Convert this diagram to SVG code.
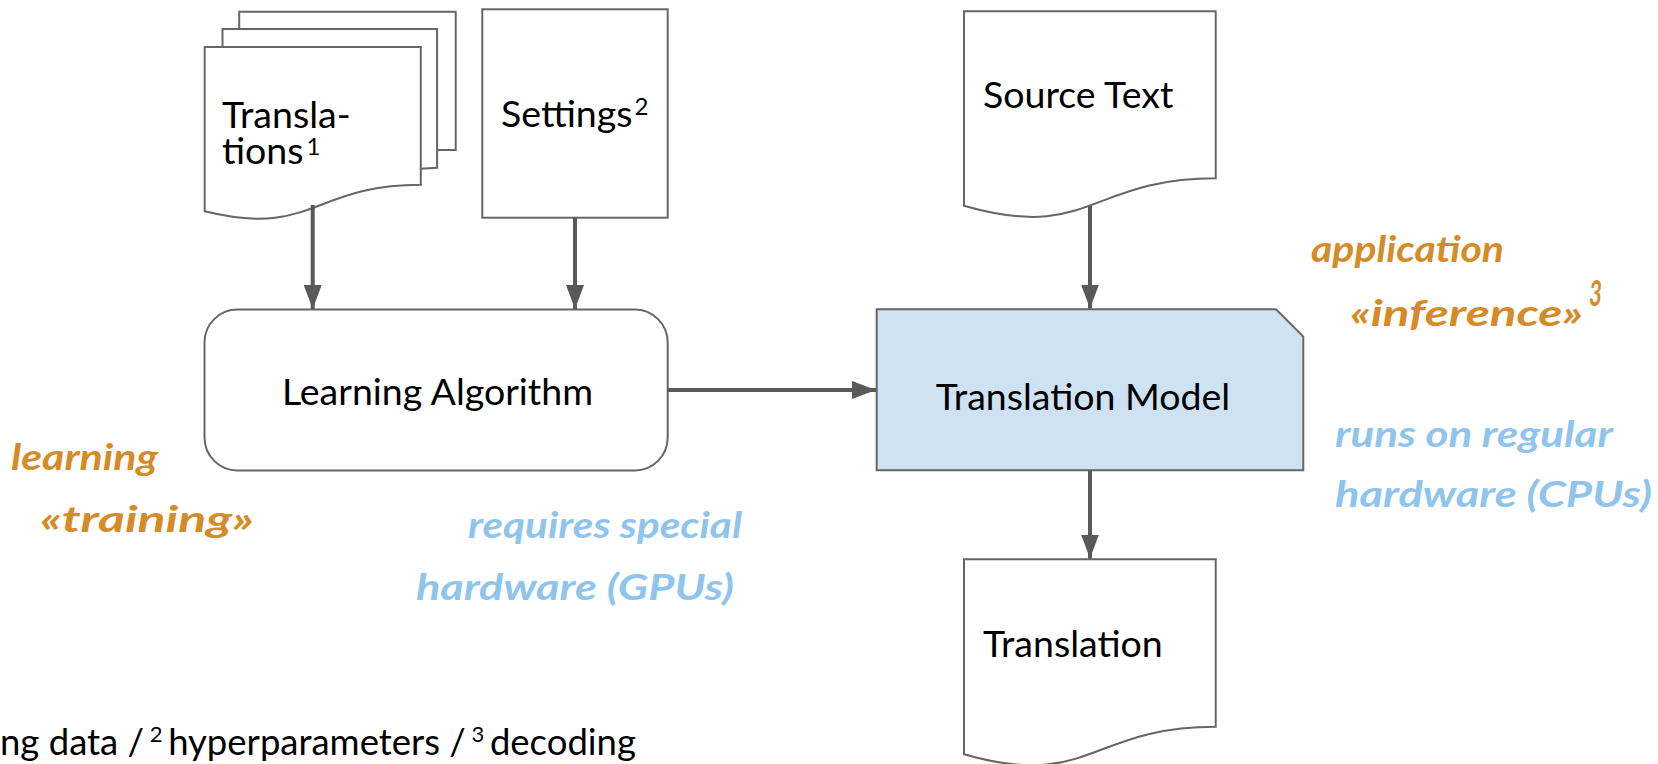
<svg xmlns="http://www.w3.org/2000/svg" width="1658" height="764" viewBox="0 0 1658 764">
  <defs>
    <style>
      .shape { fill: #ffffff; stroke: #666666; stroke-width: 2; stroke-linejoin: miter; }
      .model { fill: #cfe2f3; stroke: #666666; stroke-width: 2; }
      .label { font-family: Lato, "Liberation Sans", sans-serif; font-size: 37.5px; fill: #000000; }
      .sup { font-size: 24px; }
      .foot { font-family: Lato, "Liberation Sans", sans-serif; font-size: 36.5px; fill: #000000; }
      .fsup { font-size: 22px; }
      .edge { fill: none; stroke: #595959; stroke-width: 4; marker-end: url(#head); }
      .note { font-family: Lato, "Open Sans", sans-serif; font-style: italic; font-weight: 700; font-size: 36px; }
      .orange { fill: #d58b27; }
      .blue { fill: #8fc4ec; }
    </style>
    <marker id="head" markerUnits="userSpaceOnUse" markerWidth="24" markerHeight="18" refX="24" refY="9" orient="auto">
      <path d="M0,0 L24,9 L0,18 Z" fill="#595959"/>
    </marker>
  </defs>

  <!-- stacked documents: training data -->
  <g id="translations">
    <path class="shape" d="M239.2,29.1 V11.7 H455.7 V150 H437.1"/>
    <path class="shape" d="M222.5,47 V29.1 H437.1 V167.8 L420.8,168.8"/>
    <path class="shape" d="M204.7,47 H420.8 V184.8 C312.7,184.8 312.7,237.9 204.7,211.3 Z"/>
    <text class="label"><tspan x="222" y="128">Transla-</tspan><tspan x="222" y="164">tions</tspan><tspan class="sup" dx="3" dy="-9">1</tspan></text>
  </g>

  <g id="settings">
    <rect class="shape" x="482.3" y="9.3" width="185.4" height="208.4"/>
    <text class="label" x="501" y="127">Settings<tspan class="sup" dx="2" dy="-12">2</tspan></text>
  </g>

  <g id="source-text">
    <path class="shape" d="M964,11.3 H1215.7 V178.3 C1089.8,178.3 1089.8,242 964,205.8 Z"/>
    <text class="label" x="983" y="108">Source Text</text>
  </g>

  <g id="learning-algorithm">
    <rect class="shape" x="204.5" y="309.5" width="463.2" height="161" rx="33" ry="33"/>
    <text class="label" x="437.5" y="405" text-anchor="middle">Learning Algorithm</text>
  </g>

  <g id="translation-model">
    <path class="model" d="M876.7,309.3 H1276 L1303.3,336.6 V470.3 H876.7 Z"/>
    <text class="label" x="1083" y="410" text-anchor="middle">Translation Model</text>
  </g>

  <g id="translation">
    <path class="shape" d="M964,559.3 H1215.7 V726.7 C1089.8,726.7 1089.8,790.4 964,754.2 Z"/>
    <text class="label" x="983" y="657">Translation</text>
  </g>

  <!-- connectors -->
  <g id="connectors">
    <line class="edge" x1="312.7" y1="205" x2="312.7" y2="309"/>
    <line class="edge" x1="575" y1="217.7" x2="575" y2="309"/>
    <line class="edge" x1="668" y1="390" x2="876" y2="390"/>
    <line class="edge" x1="1090" y1="206" x2="1090" y2="308.5"/>
    <line class="edge" x1="1090" y1="470.3" x2="1090" y2="558.5"/>
  </g>

  <!-- handwritten annotations -->
  <g id="notes">
    <text class="note orange" x="11" y="470" textLength="147" lengthAdjust="spacingAndGlyphs">learning</text>
    <text class="note orange" x="40" y="532" textLength="214" lengthAdjust="spacingAndGlyphs">«training»</text>
    <text class="note blue" x="468" y="538" textLength="274" lengthAdjust="spacingAndGlyphs">requires special</text>
    <text class="note blue" x="416" y="600" textLength="318" lengthAdjust="spacingAndGlyphs">hardware (GPUs)</text>
    <text class="note orange" x="1311" y="262" textLength="193" lengthAdjust="spacingAndGlyphs">application</text>
    <text class="note orange" x="1350" y="326" textLength="233" lengthAdjust="spacingAndGlyphs">«inference»</text>
    <text class="note orange" x="1589" y="306" font-size="22" textLength="13" lengthAdjust="spacingAndGlyphs">3</text>
    <text class="note blue" x="1335" y="447" textLength="278" lengthAdjust="spacingAndGlyphs">runs on regular</text>
    <text class="note blue" x="1335" y="507" textLength="317" lengthAdjust="spacingAndGlyphs">hardware (CPUs)</text>
  </g>

  <!-- footnote -->
  <text class="foot" x="0" y="755">ng data /<tspan class="fsup" dy="-13"> 2 </tspan><tspan dy="13">hyperparameters /</tspan><tspan class="fsup" dy="-13"> 3 </tspan><tspan dy="13">decoding</tspan></text>
</svg>
